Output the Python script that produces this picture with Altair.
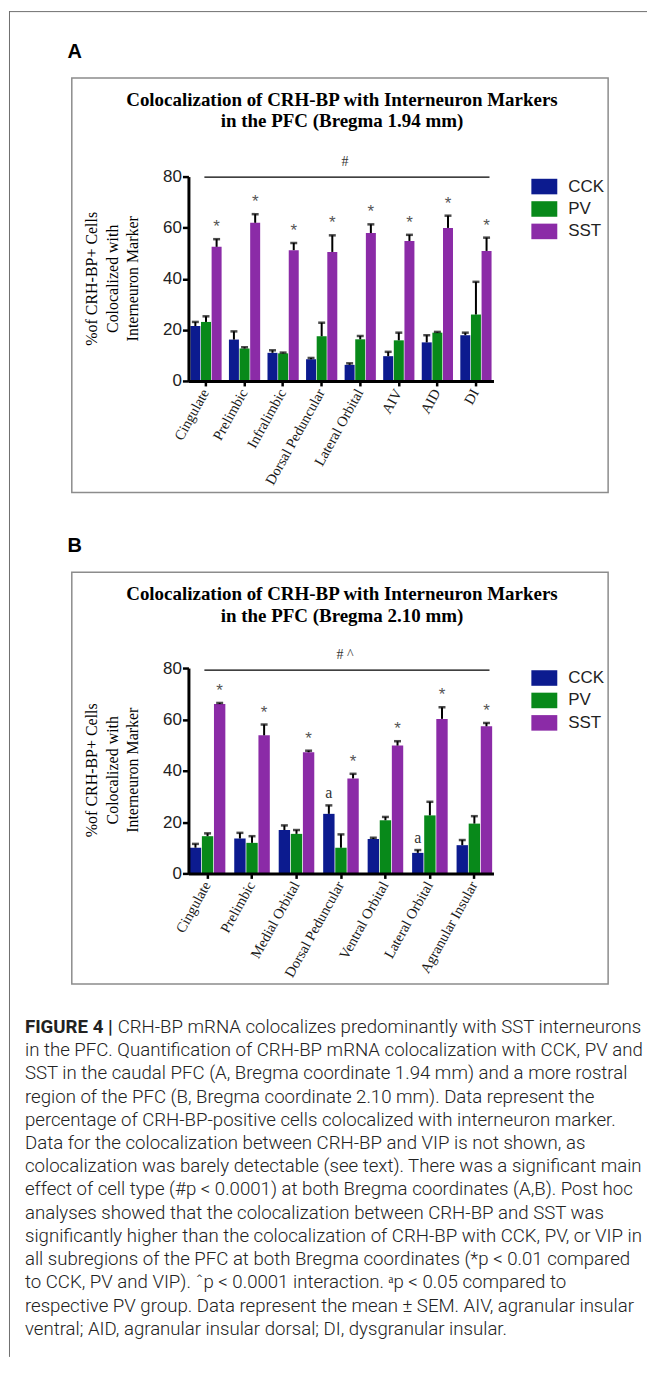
import altair as alt
import pandas as pd

# ---------------- data ----------------
markers = ["CCK", "PV", "SST"]
marker_colors = ["#0c1b8f", "#08891a", "#8b2ba7"]

regions_a = ["Cingulate", "Prelimbic", "Infralimbic", "Dorsal Peduncular",
             "Lateral Orbital", "AIV", "AID", "DI"]
cck_a = [21.5, 16.2, 11.0, 8.5, 6.3, 9.7, 15.1, 17.9]
cck_a_sem = [1.6, 3.2, 1.0, 0.5, 0.6, 1.7, 2.8, 1.0]
pv_a = [23.1, 12.7, 10.8, 17.5, 16.3, 15.9, 18.9, 26.0]
pv_a_sem = [2.2, 0.5, 0.3, 5.3, 1.3, 3.0, 0.3, 12.8]
sst_a = [52.5, 61.9, 51.2, 50.5, 57.9, 54.8, 59.9, 50.9]
sst_a_sem = [3.0, 3.4, 2.8, 6.5, 3.4, 2.4, 4.8, 5.2]
cck_a_mark = ["", "", "", "", "", "", "", ""]

regions_b = ["Cingulate", "Prelimbic", "Medial Orbital", "Dorsal Peduncular",
             "Ventral Orbital", "Lateral Orbital", "Agranular Insular"]
cck_b = [10.0, 13.6, 16.9, 23.2, 13.4, 8.0, 11.0]
cck_b_sem = [1.5, 2.2, 1.8, 3.3, 0.5, 1.1, 2.0]
pv_b = [14.5, 11.9, 15.4, 10.0, 20.7, 22.6, 19.4]
pv_b_sem = [1.1, 2.6, 1.5, 5.2, 1.3, 5.3, 2.9]
sst_b = [66.0, 53.8, 47.2, 37.0, 49.8, 60.2, 57.3]
sst_b_sem = [0.4, 4.2, 0.6, 1.8, 1.7, 4.5, 1.3]
cck_b_mark = ["", "", "", "a", "", "a", ""]

y_ticks = [0, 20, 40, 60, 80]
y_title = ["%of CRH-BP+ Cells", "Colocalized with", "Interneuron Marker"]
title_a = ["Colocalization of CRH-BP with Interneuron Markers",
           "in the PFC (Bregma 1.94 mm)"]
title_b = ["Colocalization of CRH-BP with Interneuron Markers",
           "in the PFC (Bregma 2.10 mm)"]
sig_a = "#"
sig_b = "#  ^"

caption_head = "FIGURE 4 |"
caption_first = "CRH-BP mRNA colocalizes predominantly with SST interneurons"
caption_lines = [
    "in the PFC. Quantification of CRH-BP mRNA colocalization with CCK, PV and",
    "SST in the caudal PFC (A, Bregma coordinate 1.94 mm) and a more rostral",
    "region of the PFC (B, Bregma coordinate 2.10 mm). Data represent the",
    "percentage of CRH-BP-positive cells colocalized with interneuron marker.",
    "Data for the colocalization between CRH-BP and VIP is not shown, as",
    "colocalization was barely detectable (see text). There was a significant main",
    "effect of cell type (#p < 0.0001) at both Bregma coordinates (A,B). Post hoc",
    "analyses showed that the colocalization between CRH-BP and SST was",
    "significantly higher than the colocalization of CRH-BP with CCK, PV, or VIP in",
    "all subregions of the PFC at both Bregma coordinates (*p < 0.01 compared",
    "to CCK, PV and VIP). \u02c6p < 0.0001 interaction. \u1d43p < 0.05 compared to",
    "respective PV group. Data represent the mean \u00b1 SEM. AIV, agranular insular",
    "ventral; AID, agranular insular dorsal; DI, dysgranular insular.",
]

SERIF = "Liberation Serif"
SANS = "Liberation Sans"
CAP_FONT = "Roboto"


def long_df(regions, cck, cck_sem, pv, pv_sem, sst, sst_sem, cck_mark):
    rows = []
    for i, r in enumerate(regions):
        for m, v, s in (("CCK", cck[i], cck_sem[i]),
                        ("PV", pv[i], pv_sem[i]),
                        ("SST", sst[i], sst_sem[i])):
            if m == "SST":
                ann = "*"
            elif m == "CCK":
                ann = cck_mark[i]
            else:
                ann = ""
            rows.append(dict(region=r, marker=m, value=v, upper=v + s, ann=ann))
    return pd.DataFrame(rows)


one = alt.Data(values=[{"k": 1}])


def txt(text, x, y, **kw):
    return alt.Chart(one).mark_text(text=text, **kw).encode(
        x=alt.value(x), y=alt.value(y))


def hrule(x, x2, y, **kw):
    return alt.Chart(one).mark_rule(**kw).encode(
        x=alt.value(x), x2=alt.value(x2), y=alt.value(y))


def vrule(x, y, y2, **kw):
    return alt.Chart(one).mark_rule(**kw).encode(
        x=alt.value(x), y=alt.value(y), y2=alt.value(y2))


def panel(df, regions, height, pad_inner, pad_outer, titles, sig, sig_y,
          letter, box, extra):
    x = alt.X("region:N", sort=regions,
              scale=alt.Scale(paddingInner=pad_inner, paddingOuter=pad_outer),
              axis=alt.Axis(title=None, labelAngle=299, labelAlign="right",
                            labelBaseline="middle", labelFont=SERIF,
                            labelFontSize=14.5, labelColor="#1a1a1a",
                            labelPadding=4, labelOverlap=False,
                            tickSize=5, tickWidth=2.5, tickColor="black",
                            domainColor="black", domainWidth=3, zindex=1))
    xo = alt.XOffset("marker:N", sort=markers,
                     scale=alt.Scale(paddingInner=0.06))
    y = alt.Y("value:Q", scale=alt.Scale(domain=[0, 80], nice=False),
              axis=alt.Axis(values=y_ticks, grid=False, labelFont=SANS,
                            labelFontSize=17, labelColor="#222222",
                            labelPadding=1, tickSize=6, tickWidth=2.5,
                            tickColor="black", domainColor="black",
                            domainWidth=3, zindex=1,
                            title=y_title, titleFont=SERIF, titleFontSize=16,
                            titleFontWeight="normal", titleColor="black",
                            titleAngle=270, titleAlign="center",
                            titleBaseline="middle", titleX=-97, titleY=102,
                            titleLineHeight=20.5))
    color = alt.Color("marker:N", sort=markers,
                      scale=alt.Scale(domain=markers, range=marker_colors),
                      legend=alt.Legend(orient="none", legendX=344, legendY=-3,
                                        title=None, padding=0,
                                        symbolType="M-1,-0.6H1V0.6H-1Z",
                                        symbolSize=676, symbolStrokeWidth=0,
                                        symbolOpacity=1,
                                        labelFont=SANS, labelFontSize=17,
                                        labelColor="#222222", labelOffset=11,
                                        rowPadding=1.5))
    base = alt.Chart(df)
    bars = base.mark_bar().encode(x=x, xOffset=xo, y=y, color=color)
    err = base.mark_rule(color="black", strokeWidth=2).encode(
        x=x, xOffset=xo, y="value:Q", y2="upper:Q")
    caps = base.mark_tick(color="black", thickness=2.5, size=7,
                          orient="horizontal").encode(
        x=x, xOffset=xo, y="upper:Q")
    stars = base.transform_filter("datum.ann == '*'").mark_text(
        font=SANS, fontSize=17, color="#555555", baseline="alphabetic",
        dy=-7).encode(x=x, xOffset=xo, y="upper:Q", text="ann:N")
    letters = base.transform_filter("datum.ann == 'a'").mark_text(
        font=SERIF, fontSize=16, color="#333333", baseline="alphabetic",
        dy=-7).encode(x=x, xOffset=xo, y="upper:Q", text="ann:N")

    bx0, bx1, by0, by1 = box
    deco = [
        alt.Chart(one).mark_rect(fillOpacity=0, stroke="#8c8c8c",
                                 strokeWidth=1.5).encode(
            x=alt.value(bx0), x2=alt.value(bx1),
            y=alt.value(by0), y2=alt.value(by1)),
        txt(letter, -114, by0 - 26, font=SANS, fontSize=20,
            fontWeight="bold", align="center", baseline="middle"),
        txt(titles, 154, by0 + 22, font=SERIF, fontSize=19,
            fontWeight="bold", align="center", baseline="middle",
            lineHeight=21.5, color="black"),
        txt(sig, 157, sig_y - 15, font=SERIF, fontSize=14, color="#333333",
            align="center", baseline="middle"),
        hrule(16, 302, sig_y, color="black", strokeWidth=1.2),
    ]
    layers = deco + extra + [bars, err, caps, stars, letters]
    return alt.layer(*layers).properties(width=306, height=height)


df_a = long_df(regions_a, cck_a, cck_a_sem, pv_a, pv_a_sem, sst_a, sst_a_sem,
               cck_a_mark)
df_b = long_df(regions_b, cck_b, cck_b_sem, pv_b, pv_b_sem, sst_b, sst_b_sem,
               cck_b_mark)

frame = [
    hrule(-180, 460, -165.5, color="#6f6f6f", strokeWidth=1),
    vrule(-179.5, -166, 1184, color="#6f6f6f", strokeWidth=1),
]

CAP_L = 23.3
CAP_SIZE = 18.7
caption = [
    txt(caption_head, -164, 360, font=CAP_FONT, fontSize=CAP_SIZE,
        fontWeight="bold", align="left", baseline="middle", color="#222222"),
    txt(caption_first, -71, 360, font=CAP_FONT, fontSize=CAP_SIZE,
        fontWeight=300, align="left", baseline="middle", color="#222222"),
    txt(caption_lines, -164, 360 + CAP_L, font=CAP_FONT, fontSize=CAP_SIZE,
        fontWeight=300, align="left", baseline="middle", color="#222222",
        lineHeight=CAP_L),
]

panel_a = panel(df_a, regions_a, 205, 0.19, 0.05, title_a, sig_a, 0.5, "A",
                (-117, 421, -99, 317), frame)
panel_b = panel(df_b, regions_b, 206, 0.2, 0.03, title_b, sig_b, 2, "B",
                (-117, 421, -96, 317), caption)

chart = alt.vconcat(panel_a, panel_b, spacing=288, bounds="flush").resolve_scale(
    x="independent", y="independent", color="independent", xOffset="independent"
).resolve_legend(color="independent").properties(
    padding=0, background="white"
).configure_view(strokeWidth=0)

chart.save("out.html", embed_options={"renderer": "svg", "actions": False})
